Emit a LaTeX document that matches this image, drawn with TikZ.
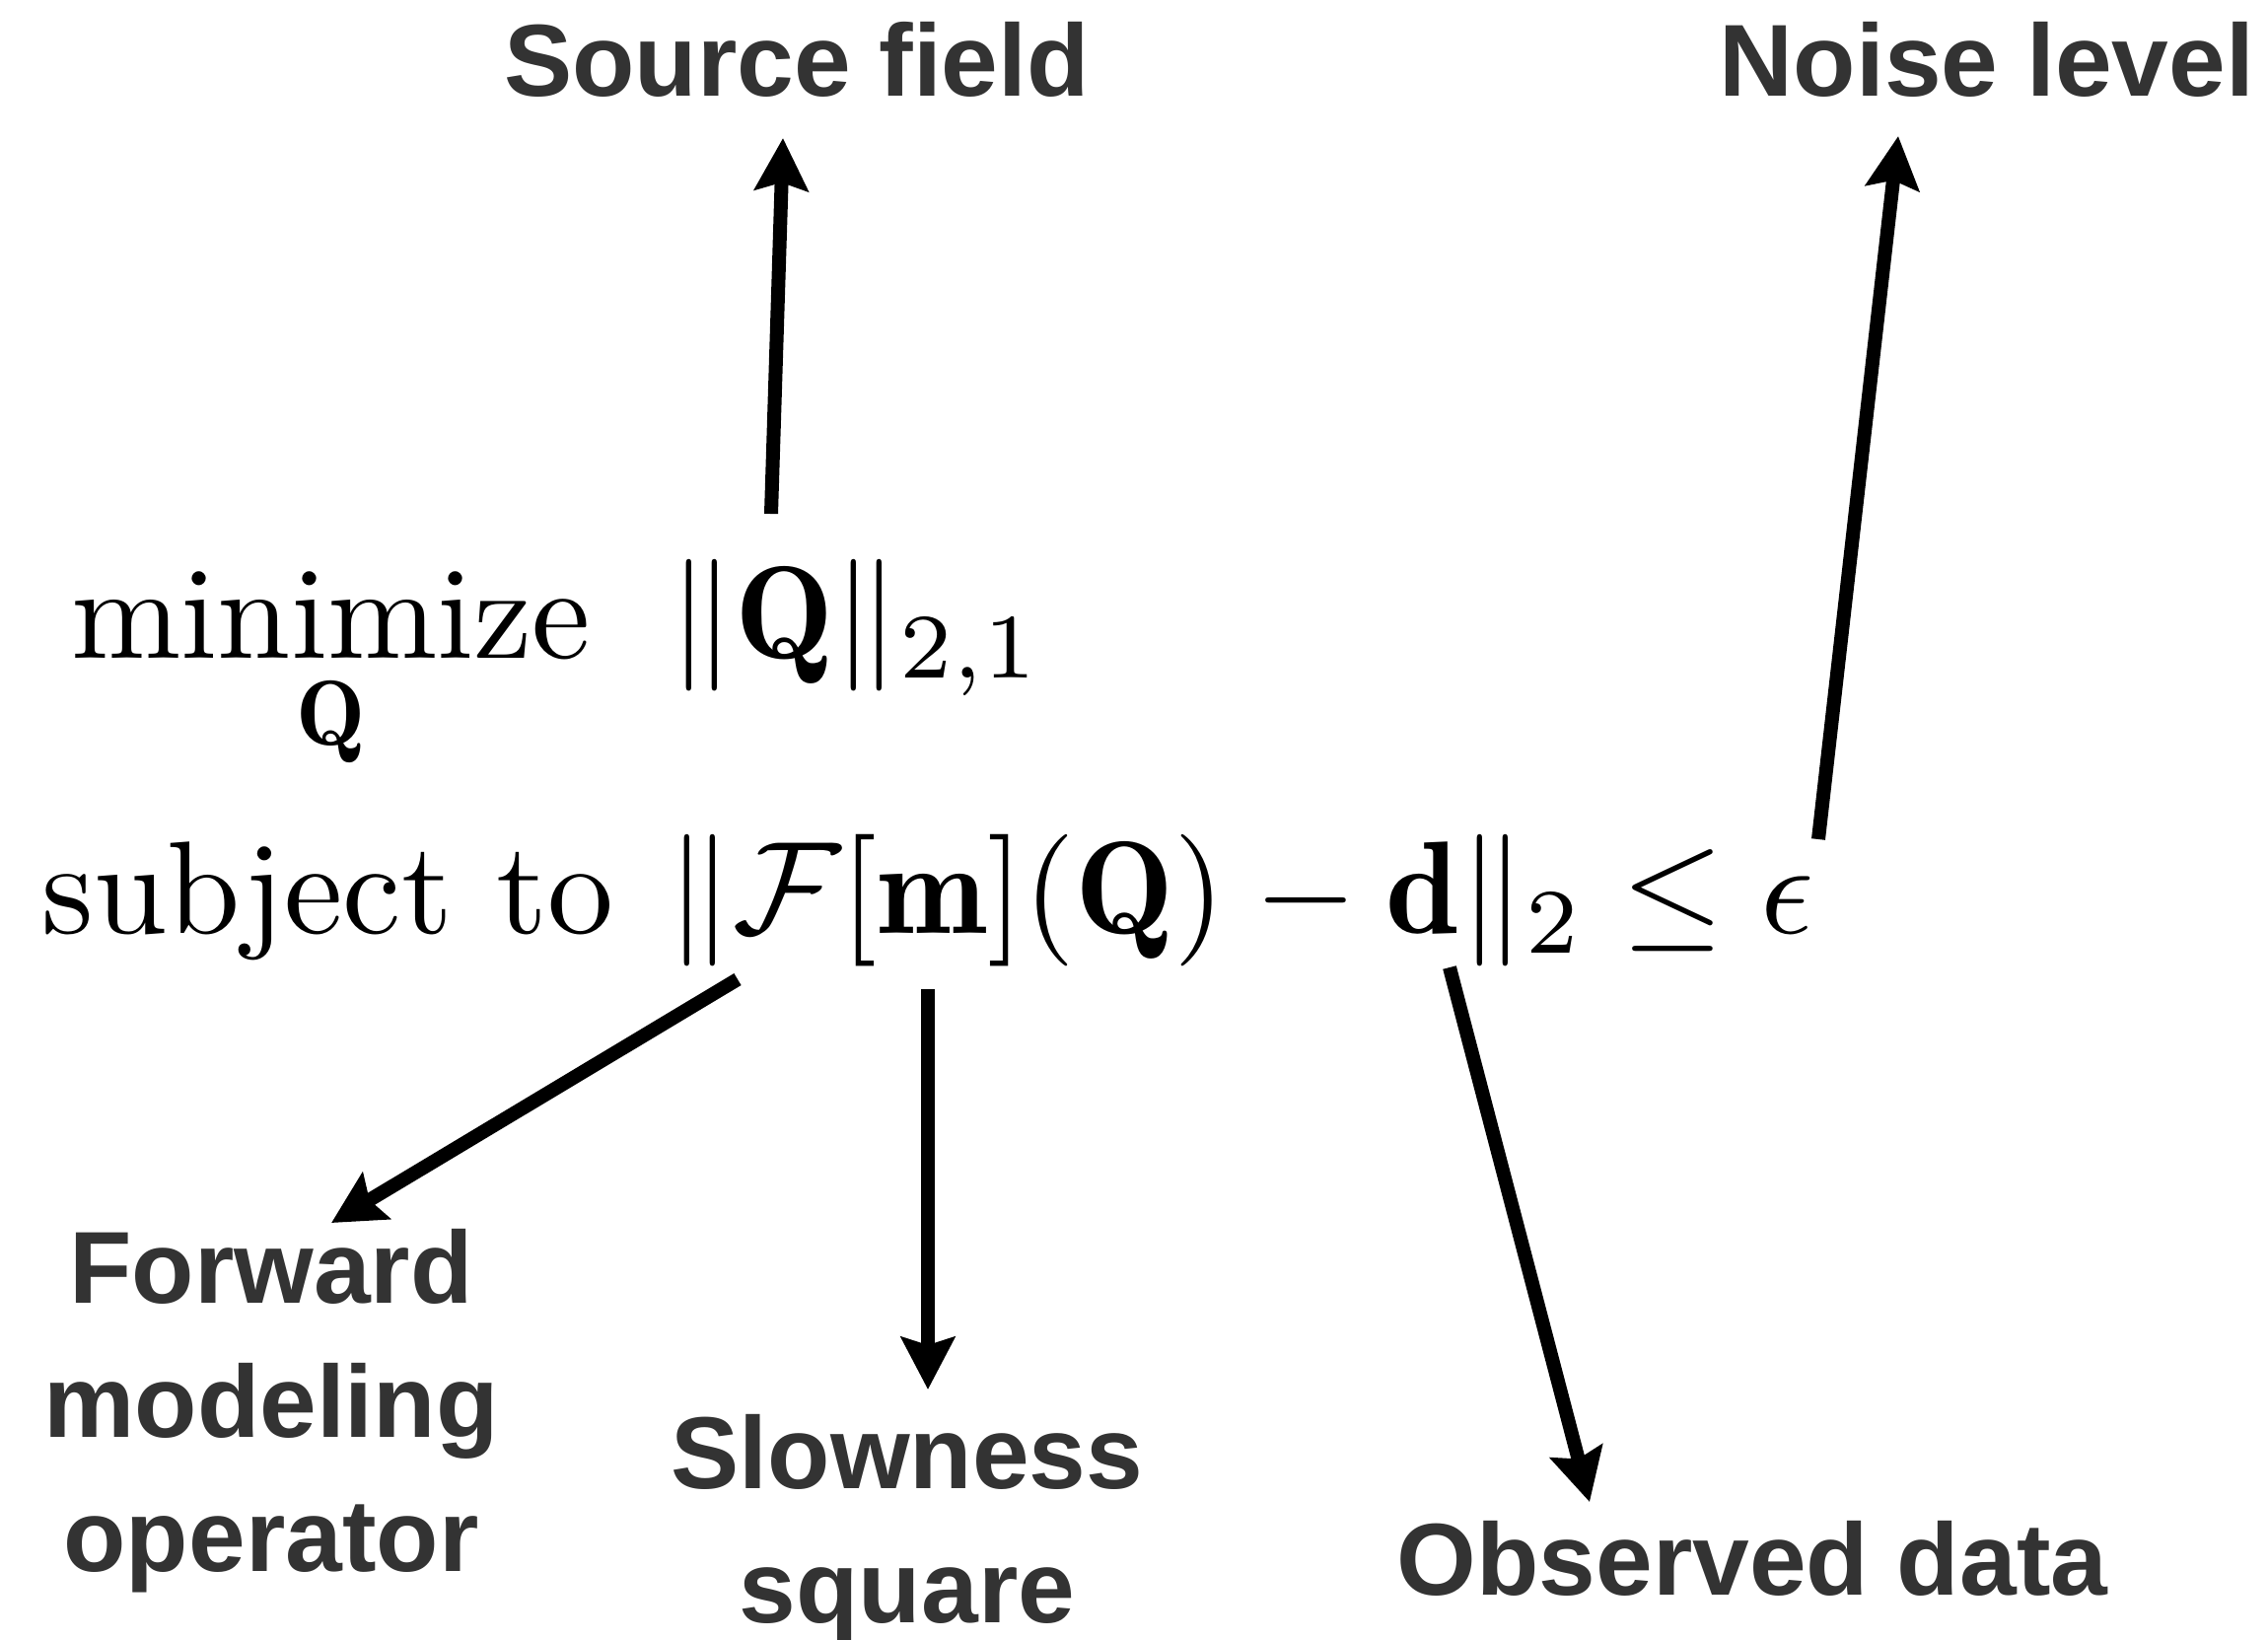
\documentclass[tikz,border=0pt]{standalone}
\usepackage{fontspec}
\usepackage{amsmath}
\usepackage{graphicx}
\usetikzlibrary{arrows.meta}
\newfontfamily\labelfont{Liberation Sans}
\definecolor{labelgray}{HTML}{333333}
\newcommand{\eqtext}[1]{\scalebox{3.8}{#1}}

\begin{document}
\begin{tikzpicture}[
  x=0.01cm, y=-0.01cm,
  eq/.style={inner sep=0pt, font=\fontsize{10}{12}\selectfont},
  tagtext/.style={inner sep=0pt, align=center, text=labelgray, font=\labelfont\bfseries\fontsize{29.5}{38.6}\selectfont},
  arrow/.style={-{Stealth[length=0.53cm, width=0.54cm, inset=0.08cm]}, line width=0.14cm}
]
\useasboundingbox (0,0) rectangle (2300,1662);

% the optimisation problem
\node[eq, anchor=base east] (minop) at (600,667) {\eqtext{$\underset{\mathbf{Q}}{\mathrm{minimize}}$}};
\node[eq, anchor=base west] (obj) at (678,667) {\eqtext{$\|\mathbf{Q}\|_{2,1}$}};
\node[eq, anchor=base east] (subj) at (623,946) {\eqtext{subject to}};
\node[eq, anchor=base west] (cons) at (676,946) {\eqtext{$\|\mathcal{F}[\mathbf{m}](\mathbf{Q})-\mathbf{d}\|_2\le\epsilon$}};

% what each term means
\node[tagtext, anchor=base] (src) at (808,97) {Source field};
\node[tagtext, anchor=base] (noise) at (2015,97) {Noise level};
\node[tagtext, anchor=base] (fwd) at (275,1593) {Forward\\modeling\\operator};
\node[tagtext, anchor=base] (slow) at (920,1645) {Slowness\\square};
\node[tagtext, anchor=base] (obs) at (1777,1617) {Observed data};

\coordinate (srcTail) at (782,521);
\coordinate (srcTip) at (794,140);
\coordinate (noiseTail) at (1844,851);
\coordinate (noiseTip) at (1925,138);
\coordinate (fwdTail) at (748,993);
\coordinate (fwdTip) at (336,1240);
\coordinate (slowTail) at (941,1003);
\coordinate (slowTip) at (941,1409);
\coordinate (obsTail) at (1470,981);
\coordinate (obsTip) at (1612,1523);

\draw[arrow] (srcTail) -- (srcTip);
\draw[arrow] (noiseTail) -- (noiseTip);
\draw[arrow] (fwdTail) -- (fwdTip);
\draw[arrow] (slowTail) -- (slowTip);
\draw[arrow] (obsTail) -- (obsTip);
\end{tikzpicture}
\end{document}
